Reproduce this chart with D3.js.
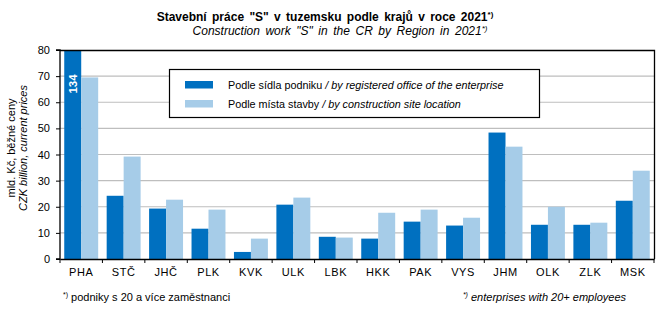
<!DOCTYPE html>
<html>
<head>
<meta charset="utf-8">
<script src="https://cdn.jsdelivr.net/npm/d3@7"></script>
<style>
  html, body { margin: 0; padding: 0; background: #fff; }
  svg { display: block; font-family: "Liberation Sans", Arial, sans-serif; }
</style>
</head>
<body>
<svg id="chart" width="672" height="324"></svg>
<script>
// Regions (NUTS 3 abbreviations)
const regions = ["PHA", "STČ", "JHČ", "PLK", "KVK", "ULK", "LBK", "HKK", "PAK", "VYS", "JHM", "OLK", "ZLK", "MSK"];
// Construction work by registered office of the enterprise (CZK bn)
const byOffice = [134, 24.2, 19.3, 11.6, 2.7, 20.8, 8.5, 7.8, 14.3, 12.8, 48.4, 13.1, 13.1, 22.3];
// Construction work by construction site location (CZK bn)
const bySite = [69.5, 39.2, 22.7, 18.9, 7.8, 23.5, 8.2, 17.7, 18.9, 15.8, 43.0, 20.0, 13.9, 33.8];
const yTicks = [0, 10, 20, 30, 40, 50, 60, 70, 80];
const yMax = 80;
const seriesNames = [
  { cz: "Podle sídla podniku", en: "by registered office of the enterprise" },
  { cz: "Podle místa stavby", en: "by construction site location" }
];

const colors = ["#0070C0", "#A6CCE8"];

const svg = d3.select("#chart");
const m = { left: 60, right: 654, top: 50, bottom: 259 };

const x = d3.scaleBand().domain(regions).range([m.left, m.right]).paddingInner(0.2).paddingOuter(0.1);
const xs = d3.scaleBand().domain([0, 1]).range([0, x.bandwidth()]);
const y = d3.scaleLinear().domain([0, yMax]).range([m.bottom, m.top]);

// gridlines
svg.append("g").selectAll("line")
  .data(yTicks.filter(t => t > 0 && t < yMax))
  .join("line")
  .attr("x1", m.left).attr("x2", m.right)
  .attr("y1", d => y(d)).attr("y2", d => y(d))
  .attr("stroke", "#BEBEBE").attr("stroke-width", 1.2);

// bars (values above the axis maximum are clipped at the top)
const rows = regions.map((r, i) => ({ r, v: [byOffice[i], bySite[i]] }));
const groups = svg.append("g").selectAll("g").data(rows).join("g")
  .attr("transform", d => `translate(${x(d.r)},0)`);
groups.selectAll("rect")
  .data(d => d.v.map((v, k) => ({ v, k })))
  .join("rect")
  .attr("x", d => xs(d.k))
  .attr("width", xs.bandwidth())
  .attr("y", d => y(Math.min(d.v, yMax)))
  .attr("height", d => y(0) - y(Math.min(d.v, yMax)))
  .attr("fill", d => colors[d.k]);

// value label for the clipped bar
rows.forEach(d => {
  if (d.v[0] > yMax) {
    const cx = x(d.r) + xs(0) + xs.bandwidth() / 2;
    svg.append("text")
      .attr("transform", `translate(${cx + 4},84) rotate(-90)`)
      .attr("text-anchor", "middle")
      .attr("fill", "#fff").attr("font-weight", "bold").attr("font-size", 11.5)
      .text(d3.format("d")(d.v[0]));
  }
});

// plot frame: top and right
svg.append("path")
  .attr("d", `M${m.left},${m.top + 0.5}H${m.right + 0.5}V${m.bottom}`)
  .attr("fill", "none").attr("stroke", "#000").attr("stroke-width", 1.3);

// y axis
const yAxis = svg.append("g").attr("transform", `translate(${m.left},0)`)
  .call(d3.axisLeft(y).tickValues(yTicks).tickSize(4).tickPadding(6));
// x axis with ticks between categories
const xAxis = svg.append("g").attr("transform", `translate(0,${m.bottom})`)
  .call(d3.axisBottom(x).tickSize(0).tickPadding(9));
xAxis.append("g").selectAll("line")
  .data(d3.range(regions.length + 1))
  .join("line")
  .attr("x1", i => m.left + i * x.step()).attr("x2", i => m.left + i * x.step())
  .attr("y1", 0).attr("y2", 4).attr("stroke", "#000");
[yAxis, xAxis].forEach(a => {
  a.select(".domain").attr("stroke", "#000").attr("stroke-width", 1.3);
  a.selectAll(".tick line").attr("stroke", "#000");
  a.selectAll("text").attr("font-size", 11).attr("fill", "#000")
    .attr("font-family", "'Liberation Sans', Arial, sans-serif");
});
xAxis.selectAll(".tick text").attr("letter-spacing", "0.6px");
yAxis.select(".domain").attr("d", `M-4,${m.bottom}H0V${m.top}H-4`);

// y axis title (two lines)
const yt = svg.append("text")
  .attr("transform", `translate(15,148) rotate(-90)`)
  .attr("text-anchor", "middle").attr("font-size", 11);
yt.append("tspan").attr("x", 0).attr("y", 0).text("mld. Kč, běžné ceny");
yt.append("tspan").attr("x", 0).attr("y", 11.5).attr("font-style", "italic").text("CZK billion, current prices");

// title
const t1 = svg.append("text").attr("x", 325).attr("y", 21).attr("text-anchor", "middle")
  .attr("font-size", 12).attr("font-weight", "bold").attr("word-spacing", "2px");
t1.append("tspan").text("Stavební práce \"S\" v tuzemsku podle krajů v roce 2021");
t1.append("tspan").attr("font-size", 8).attr("dy", -4).text("*)");
const t2 = svg.append("text").attr("x", 340).attr("y", 35).attr("text-anchor", "middle")
  .attr("font-size", 12).attr("font-style", "italic").attr("word-spacing", "2.2px");
t2.append("tspan").text("Construction work \"S\" in the CR by Region in 2021");
t2.append("tspan").attr("font-size", 8).attr("dy", -4).text("*)");

// legend
const lg = svg.append("g");
lg.append("rect").attr("x", 169.5).attr("y", 69.5).attr("width", 370).attr("height", 48)
  .attr("fill", "#fff").attr("stroke", "#000").attr("stroke-width", 1.2);
seriesNames.forEach((s, i) => {
  const yy = 81 + i * 19;
  lg.append("rect").attr("x", 185).attr("y", yy).attr("width", 28).attr("height", 7.5).attr("fill", colors[i]);
  const tx = lg.append("text").attr("x", 228).attr("y", yy + 7.5).attr("font-size", 10.8);
  tx.append("tspan").text(s.cz + " ");
  tx.append("tspan").attr("font-style", "italic").text("/ " + s.en);
});

// footnotes
const f1 = svg.append("text").attr("x", 63).attr("y", 301).attr("font-size", 11);
f1.append("tspan").attr("font-size", 7).attr("dy", -4).text("*)");
f1.append("tspan").attr("dy", 4).text(" podniky s 20 a více zaměstnanci");
const f2 = svg.append("text").attr("x", 626).attr("y", 301).attr("font-size", 11)
  .attr("text-anchor", "end").attr("font-style", "italic");
f2.append("tspan").attr("font-size", 7).attr("dy", -4).text("*)");
f2.append("tspan").attr("dy", 4).text(" enterprises with 20+ employees");
</script>
</body>
</html>
